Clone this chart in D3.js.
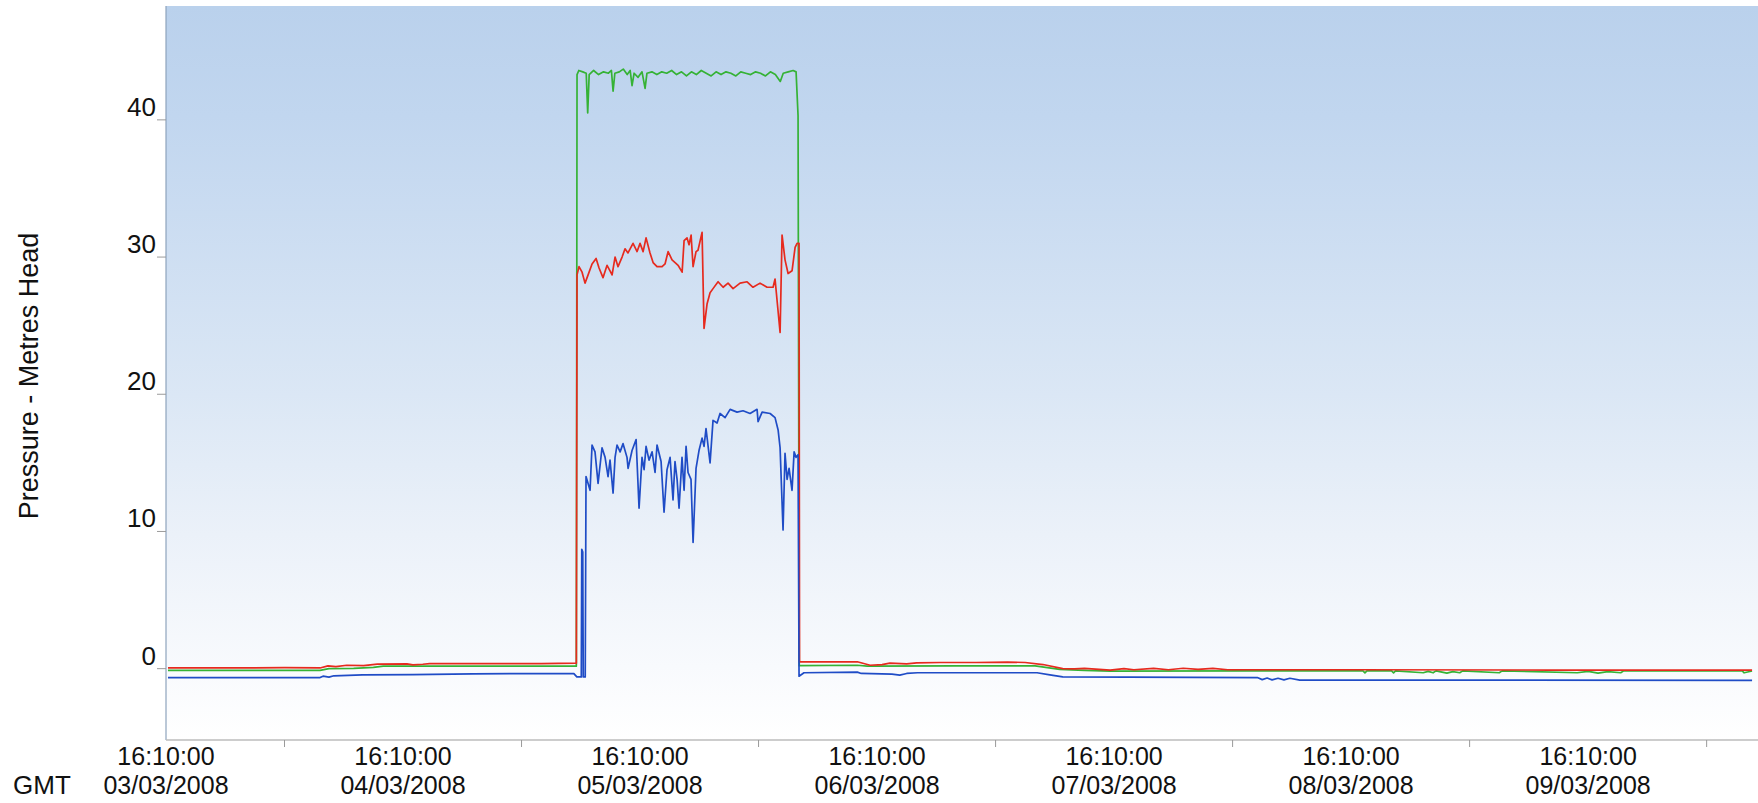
<!DOCTYPE html>
<html>
<head>
  <meta charset="utf-8">
  <title>Pressure - Metres Head</title>
  <script src="https://cdn.jsdelivr.net/npm/d3@7"></script>
  <style>
    body { margin: 0; background: #fff; }
    svg text { font-family: "Liberation Sans", Arial, sans-serif; fill: #111; }
  </style>
</head>
<body>
<div id="container"></div>
<script>
const width = 1758,
  height = 803;
const margin = { top: 6, left: 166, right: 0, bottom: 63 };

// hours after 03/03/2008 16:10:00 GMT
const startTime = Date.UTC(2008, 2, 3, 16, 10, 0);
const spanHours = 161.2;

const yTicks = [0, 10, 20, 30, 40];
const dayTicks = ["2008-03-03T16:10:00Z", "2008-03-04T16:10:00Z", "2008-03-05T16:10:00Z",
  "2008-03-06T16:10:00Z", "2008-03-07T16:10:00Z", "2008-03-08T16:10:00Z", "2008-03-09T16:10:00Z"];
const halfDayTicks = ["2008-03-04T04:10:00Z", "2008-03-05T04:10:00Z", "2008-03-06T04:10:00Z",
  "2008-03-07T04:10:00Z", "2008-03-08T04:10:00Z", "2008-03-09T04:10:00Z", "2008-03-10T04:10:00Z"];

// [hours, metres head]
const greenData = [
  [0.2,-0.12],[15.6,-0.12],[16.5,0.0],[19,0.02],[21,0.1],[22,0.18],[41.55,0.18],
  [41.62,43.3],[41.8,43.6],[42.2,43.5],[42.55,43.4],[42.7,40.5],[42.85,43.3],[43.3,43.6],[43.8,43.3],
  [44.3,43.5],[44.8,43.4],[45.1,43.6],[45.27,42.1],[45.45,43.4],[45.9,43.5],[46.3,43.7],[46.7,43.3],
  [47.0,43.6],[47.19,42.5],[47.4,43.4],[47.8,43.1],[48.2,43.5],[48.51,42.3],[48.7,43.4],[49.2,43.5],
  [49.7,43.3],[50.2,43.5],[50.7,43.4],[51.2,43.6],[51.7,43.3],[52.2,43.5],[52.7,43.2],[53.2,43.5],
  [53.7,43.3],[54.2,43.6],[54.7,43.4],[55.2,43.2],[55.7,43.5],[56.2,43.3],[56.7,43.5],[57.2,43.4],
  [57.7,43.2],[58.2,43.5],[58.7,43.4],[59.2,43.3],[59.7,43.5],[60.2,43.4],[60.7,43.2],[61.2,43.5],
  [61.7,43.3],[62.2,42.8],[62.5,43.4],[63.0,43.5],[63.5,43.6],[63.8,43.5],[64.0,40.3],
  [64.12,0.22],[70,0.25],[71,0.18],[80,0.2],[88,0.2],[90.5,-0.05],[93,-0.12],[95.6,-0.18],
  [110,-0.16],[121.2,-0.16],[121.4,-0.3],[121.6,-0.16],[124.1,-0.16],[124.3,-0.3],[124.5,-0.16],
  [127.3,-0.3],[127.8,-0.2],[128.3,-0.3],[128.6,-0.16],[129.7,-0.32],[130.3,-0.22],[131,-0.3],
  [131.3,-0.16],[135,-0.3],[135.3,-0.16],[142.9,-0.3],[144,-0.2],[145,-0.32],[146,-0.22],
  [147.3,-0.3],[147.6,-0.16],[159.6,-0.16],[159.8,-0.3],[160.6,-0.17]
];

const redData = [
  [0.2,0.05],[8,0.05],[12,0.08],[15.6,0.05],[16.4,0.2],[17.2,0.15],[18.3,0.25],[20,0.22],[21.4,0.33],
  [24.4,0.35],[25,0.28],[26,0.32],[26.7,0.36],[32,0.36],[38,0.37],[41.55,0.4],
  [41.62,28.7],[41.82,29.3],[42.13,28.9],[42.43,28.1],[42.74,28.7],[43.14,29.5],[43.55,29.9],
  [43.85,29.2],[44.25,28.5],[44.66,29.4],[44.96,29.0],[45.17,28.7],[45.47,30.0],[45.77,29.3],
  [46.18,30.0],[46.48,30.6],[46.78,30.3],[47.29,31.0],[47.70,30.4],[48.00,31.0],[48.31,30.4],
  [48.61,31.4],[49.01,30.3],[49.32,29.6],[49.72,29.3],[50.23,29.3],[50.53,29.5],[50.84,30.4],
  [51.24,29.8],[51.55,29.6],[51.85,29.4],[52.26,28.9],[52.46,31.2],[52.76,31.4],[52.96,30.9],
  [53.17,31.6],[53.37,29.3],[53.67,30.4],[53.87,30.5],[54.28,31.8],[54.48,24.8],[54.79,26.6],
  [55.09,27.4],[55.39,27.7],[55.90,28.2],[56.41,27.8],[56.91,28.1],[57.42,27.7],[58.13,28.1],
  [58.84,28.2],[59.44,27.8],[60.15,28.1],[60.86,27.8],[61.47,27.8],[61.67,28.4],[62.18,24.5],
  [62.38,31.6],[62.68,29.8],[62.99,28.8],[63.39,29.0],[63.70,30.7],[63.90,31.0],[64.10,31.0],
  [64.15,0.5],[70,0.5],[71.3,0.25],[72.5,0.3],[73.3,0.4],[75,0.35],[76,0.42],[78.4,0.45],[82,0.45],
  [85.2,0.48],[87,0.45],[88.8,0.3],[90.8,0.0],[92,-0.02],[93,0.02],[95.6,-0.1],[97,0.0],[98,-0.08],
  [100,0.02],[101.5,-0.08],[103,0.03],[104.5,-0.05],[106,0.02],[107.5,-0.08],[120,-0.08],
  [140,-0.1],[160.6,-0.1]
];

const blueData = [
  [0.2,-0.65],[15.6,-0.65],[15.9,-0.55],[16.5,-0.62],[17.0,-0.52],[19.9,-0.46],[25,-0.44],
  [31.1,-0.38],[35,-0.36],[41.3,-0.36],[41.6,-0.6],[42.05,-0.6],[42.1,8.7],[42.2,8.5],[42.25,-0.6],
  [42.45,-0.6],[42.53,14.0],[42.94,13.0],[43.14,16.3],[43.44,15.8],[43.75,13.5],[44.15,16.1],
  [44.46,15.4],[44.76,14.0],[44.96,15.2],[45.27,12.8],[45.47,15.4],[45.67,16.3],[45.98,15.8],
  [46.28,16.4],[46.68,15.4],[46.79,14.6],[47.19,15.9],[47.60,16.7],[47.90,11.7],[48.20,15.4],
  [48.41,14.5],[48.61,16.2],[48.91,15.2],[49.22,15.8],[49.52,14.3],[49.72,16.3],[50.13,15.1],
  [50.43,11.4],[50.73,14.5],[51.04,15.4],[51.34,12.3],[51.54,15.1],[51.75,13.8],[51.95,11.7],
  [52.25,15.4],[52.46,13.0],[52.66,16.2],[52.86,14.3],[53.16,13.8],[53.37,9.2],[53.67,14.6],
  [53.97,15.9],[54.28,16.8],[54.48,16.2],[54.68,17.5],[55.09,15.0],[55.39,18.1],[55.80,17.9],
  [56.10,18.6],[56.61,18.3],[57.12,18.9],[57.82,18.7],[58.43,18.8],[59.14,18.6],[59.85,18.9],
  [59.95,18.0],[60.36,18.7],[61.17,18.6],[61.67,18.3],[61.98,17.4],[62.18,16.1],[62.48,10.1],
  [62.68,15.7],[62.89,13.8],[63.09,14.6],[63.39,13.0],[63.60,15.8],[63.80,15.4],[64.00,15.6],
  [64.1,-0.55],[64.6,-0.3],[70,-0.25],[70.4,-0.35],[73.5,-0.4],[74.3,-0.47],[75,-0.35],[76.1,-0.3],
  [88.2,-0.3],[89.5,-0.45],[90.8,-0.6],[110.5,-0.65],[111,-0.8],[111.5,-0.68],[112,-0.82],
  [112.6,-0.7],[113.2,-0.82],[113.8,-0.7],[114.8,-0.83],[160.6,-0.85]
];

const series = [
  { data: greenData, color: "#35b235" },
  { data: redData, color: "#e62a1e" },
  { data: blueData, color: "#1f4cc6" }
];

const toDate = h => new Date(startTime + h * 3600e3);

const x = d3.scaleUtc()
  .domain([toDate(0), toDate(spanHours)])
  .range([margin.left, width - margin.right]);
const y = d3.scaleLinear()
  .domain([-5.2, 48.3])
  .range([height - margin.bottom, margin.top]);

const svg = d3.select("#container")
  .append("svg")
  .attr("width", width)
  .attr("height", height);

// plot background
const grad = svg.append("defs").append("linearGradient")
  .attr("id", "bg")
  .attr("x1", 0).attr("y1", 0).attr("x2", 0).attr("y2", 1);
[[0, "#bad1ec"], [0.15, "#c1d6ef"], [0.53, "#dbe7f5"], [0.72, "#ebf1f9"], [0.9, "#f8fafd"], [1, "#ffffff"]]
  .forEach(s => grad.append("stop").attr("offset", s[0]).attr("stop-color", s[1]));

svg.append("rect")
  .attr("x", margin.left)
  .attr("y", margin.top)
  .attr("width", width - margin.left - margin.right)
  .attr("height", height - margin.top - margin.bottom)
  .attr("fill", "url(#bg)");

// y axis
const yAxis = svg.append("g");
yAxis.append("line")
  .attr("x1", margin.left).attr("x2", margin.left)
  .attr("y1", margin.top).attr("y2", height - margin.bottom)
  .attr("stroke", "#8ea3bd").attr("stroke-width", 1.2);
yAxis.selectAll(".ytick")
  .data(yTicks)
  .enter()
  .append("line")
  .attr("x1", margin.left - 9).attr("x2", margin.left)
  .attr("y1", d => y(d)).attr("y2", d => y(d))
  .attr("stroke", "#9a9a9a");
yAxis.selectAll(".ylabel")
  .data(yTicks)
  .enter()
  .append("text")
  .attr("x", margin.left - 10)
  .attr("y", d => y(d) - 4)
  .attr("text-anchor", "end")
  .attr("font-size", "26px")
  .text(d => d);

svg.append("text")
  .attr("transform", "translate(29,376) rotate(-90)")
  .attr("text-anchor", "middle")
  .attr("dominant-baseline", "central")
  .attr("font-size", "27px")
  .text("Pressure - Metres Head");

// x axis
const xAxis = svg.append("g");
xAxis.append("line")
  .attr("x1", margin.left).attr("x2", width)
  .attr("y1", height - margin.bottom).attr("y2", height - margin.bottom)
  .attr("stroke", "#bdbdbd").attr("stroke-width", 1.5);
xAxis.selectAll(".xtick")
  .data(halfDayTicks)
  .enter()
  .append("line")
  .attr("x1", d => x(new Date(d))).attr("x2", d => x(new Date(d)))
  .attr("y1", height - margin.bottom).attr("y2", height - margin.bottom + 7)
  .attr("stroke", "#9a9a9a");

const fmtTime = d3.utcFormat("%H:%M:%S"),
  fmtDate = d3.utcFormat("%d/%m/%Y");
xAxis.selectAll(".xtime")
  .data(dayTicks)
  .enter()
  .append("text")
  .attr("x", d => x(new Date(d)))
  .attr("y", 765)
  .attr("text-anchor", "middle")
  .attr("font-size", "25px")
  .text(d => fmtTime(new Date(d)));
xAxis.selectAll(".xdate")
  .data(dayTicks)
  .enter()
  .append("text")
  .attr("x", d => x(new Date(d)))
  .attr("y", 794)
  .attr("text-anchor", "middle")
  .attr("font-size", "25px")
  .text(d => fmtDate(new Date(d)));

svg.append("text")
  .attr("x", 13)
  .attr("y", 794)
  .attr("font-size", "26px")
  .text("GMT");

// series
const line = d3.line()
  .x(d => x(toDate(d[0])))
  .y(d => y(d[1]));

svg.selectAll(".series")
  .data(series)
  .enter()
  .append("path")
  .attr("d", d => line(d.data))
  .attr("fill", "none")
  .attr("stroke", d => d.color)
  .attr("stroke-width", 1.7)
  .attr("stroke-linejoin", "round");
</script>
</body>
</html>
